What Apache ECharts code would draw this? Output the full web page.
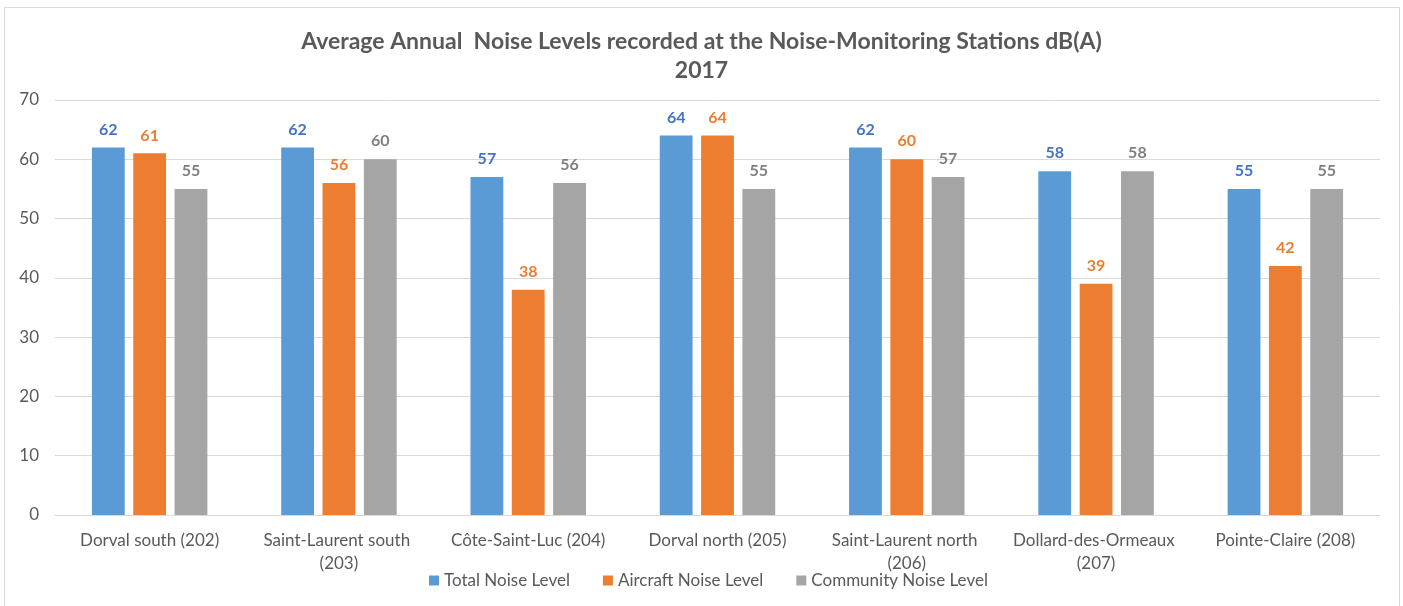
<!DOCTYPE html>
<html>
<head>
<meta charset="utf-8">
<script src="https://cdn.jsdelivr.net/npm/echarts@6/dist/echarts.min.js"></script>
<style>
  html, body { margin: 0; padding: 0; background: #fff; }
  #chart { width: 1403px; height: 606px; }
</style>
</head>
<body>
<div id="chart"></div>
<script>
    const categories = ['Dorval south (202)', 'Saint-Laurent south (203)', 'Côte-Saint-Luc (204)', 'Dorval north (205)',
        'Saint-Laurent north (206)', 'Dollard-des-Ormeaux (207)', 'Pointe-Claire (208)']
    const seriesNames = ['Total Noise Level', 'Aircraft Noise Level', 'Community Noise Level']
    const totalNoise = [62, 62, 57, 64, 62, 58, 55]
    const aircraftNoise = [61, 56, 38, 64, 60, 39, 42]
    const communityNoise = [55, 60, 56, 55, 57, 58, 55]

    const font = 'Lato, "Open Sans", sans-serif'
    const barColors = ['#5B9BD5', '#ED7D31', '#A5A5A5']
    const labelColors = ['#4472C4', '#ED7D31', '#7F7F7F']

    const chart = echarts.init(document.getElementById('chart'))

    function makeSeries(i, values) {
        return {
            name: seriesNames[i],
            type: 'bar',
            data: values,
            barGap: '26%',
            barCategoryGap: '39%',
            itemStyle: { color: barColors[i] },
            label: {
                show: true,
                position: 'top',
                distance: 10,
                color: labelColors[i],
                fontFamily: font,
                fontWeight: 'bold',
                fontSize: 16
            }
        }
    }

    chart.setOption({
        animation: false,
        textStyle: { fontFamily: font },
        graphic: [{
            type: 'rect',
            shape: { x: 4.5, y: 7.5, width: 1395, height: 640 },
            style: { fill: 'none', stroke: '#d9d9d9', lineWidth: 1 },
            silent: true
        }],
        title: {
            text: 'Average Annual  Noise Levels recorded at the Noise-Monitoring Stations dB(A)\n2017',
            left: 'center',
            top: 22,
            padding: [5, 5, 5, 28],
            textStyle: {
                fontFamily: font,
                fontWeight: 'bold',
                fontSize: 23,
                color: '#595959',
                lineHeight: 29
            }
        },
        legend: {
            data: seriesNames,
            bottom: 12,
            left: 424,
            icon: 'rect',
            itemWidth: 10,
            itemHeight: 10,
            itemGap: 33,
            textStyle: { fontFamily: font, fontSize: 17, color: '#595959' }
        },
        grid: { left: 55, right: 23, top: 100, bottom: 91 },
        xAxis: {
            type: 'category',
            data: categories,
            axisTick: { show: false },
            axisLine: { lineStyle: { color: '#d9d9d9' } },
            axisLabel: {
                interval: 0,
                margin: 14,
                width: 175,
                overflow: 'break',
                lineHeight: 23,
                fontSize: 17,
                color: '#595959',
                fontFamily: font
            }
        },
        yAxis: {
            type: 'value',
            min: 0,
            max: 70,
            interval: 10,
            axisLine: { show: false },
            axisTick: { show: false },
            splitLine: { lineStyle: { color: '#d9d9d9' } },
            axisLabel: { fontSize: 17, color: '#595959', fontFamily: font, margin: 16 }
        },
        series: [
            makeSeries(0, totalNoise),
            makeSeries(1, aircraftNoise),
            makeSeries(2, communityNoise)
        ]
    })
</script>
</body>
</html>
